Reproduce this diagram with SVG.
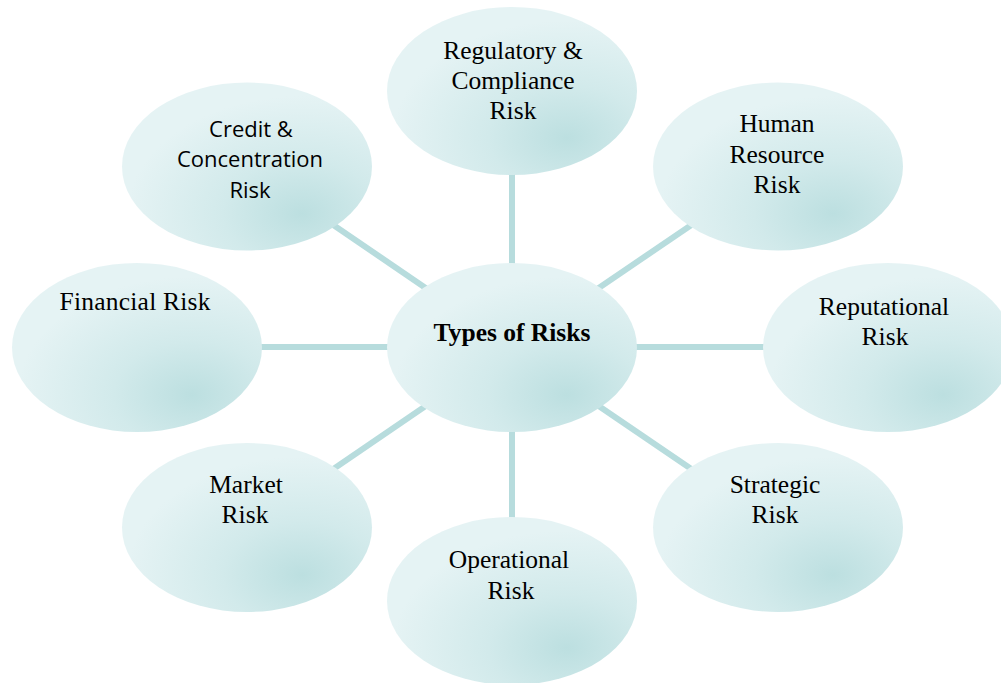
<svg xmlns="http://www.w3.org/2000/svg" width="1001" height="683" viewBox="0 0 1001 683">
  <defs>
    <radialGradient id="fill" cx="0.72" cy="0.78" r="0.7" fx="0.72" fy="0.78">
      <stop offset="0" stop-color="#bcdfe0"/>
      <stop offset="0.45" stop-color="#d2eaeb"/>
      <stop offset="1" stop-color="#e5f3f4"/>
    </radialGradient>
  </defs>
  <style>
    .node ellipse { fill: url(#fill); stroke: none; }
    .conn line { stroke: #b7dcdd; stroke-width: 6; }
    .t { font-family: "Liberation Serif", "Times New Roman", serif; font-size: 25.5px; fill: #000; text-anchor: middle; }
    .s { font-family: "Open Sans", "Liberation Sans", sans-serif; font-size: 22px; fill: #000; text-anchor: middle; }
    .b { font-weight: bold; }
  </style>
  <rect width="1001" height="683" fill="#ffffff"/>
  <g id="connectors" class="conn">
    <line x1="512" y1="347" x2="512" y2="91"/>
    <line x1="512" y1="347" x2="512" y2="601"/>
    <line x1="512" y1="347" x2="137" y2="347"/>
    <line x1="512" y1="347" x2="888" y2="347"/>
    <line x1="512" y1="347" x2="247" y2="166"/>
    <line x1="512" y1="347" x2="778" y2="166"/>
    <line x1="512" y1="347" x2="247" y2="528"/>
    <line x1="512" y1="347" x2="778" y2="528"/>
  </g>
  <g id="center" class="node">
    <ellipse cx="512" cy="347.5" rx="125" ry="84.5"/>
    <text class="t b" x="512" y="341">Types of Risks</text>
  </g>
  <g id="regulatory" class="node">
    <ellipse cx="512" cy="91" rx="125" ry="84"/>
    <text class="t" x="513" y="58.5">Regulatory &amp;</text>
    <text class="t" x="513" y="89">Compliance</text>
    <text class="t" x="513" y="119">Risk</text>
  </g>
  <g id="human" class="node">
    <ellipse cx="778" cy="166.5" rx="125" ry="84"/>
    <text class="t" x="777" y="132">Human</text>
    <text class="t" x="777" y="163">Resource</text>
    <text class="t" x="777" y="193">Risk</text>
  </g>
  <g id="reputational" class="node">
    <ellipse cx="888" cy="347.5" rx="125" ry="84.5"/>
    <text class="t" x="884" y="315">Reputational</text>
    <text class="t" x="885" y="345">Risk</text>
  </g>
  <g id="strategic" class="node">
    <ellipse cx="778" cy="527.5" rx="125" ry="84.5"/>
    <text class="t" x="775" y="493">Strategic</text>
    <text class="t" x="775" y="523">Risk</text>
  </g>
  <g id="operational" class="node">
    <ellipse cx="512" cy="601" rx="125" ry="84"/>
    <text class="t" x="509" y="568">Operational</text>
    <text class="t" x="511" y="599">Risk</text>
  </g>
  <g id="market" class="node">
    <ellipse cx="247" cy="527.5" rx="125" ry="84.5"/>
    <text class="t" x="246" y="493">Market</text>
    <text class="t" x="245" y="523">Risk</text>
  </g>
  <g id="financial" class="node">
    <ellipse cx="137" cy="347.5" rx="125" ry="84.5"/>
    <text class="t" x="135" y="310" textLength="151" lengthAdjust="spacing">Financial Risk</text>
  </g>
  <g id="credit" class="node">
    <ellipse cx="247" cy="166.5" rx="125" ry="84"/>
    <text class="s" x="251" y="137">Credit &amp;</text>
    <text class="s" x="250" y="167">Concentration</text>
    <text class="s" x="250" y="198">Risk</text>
  </g>
</svg>
